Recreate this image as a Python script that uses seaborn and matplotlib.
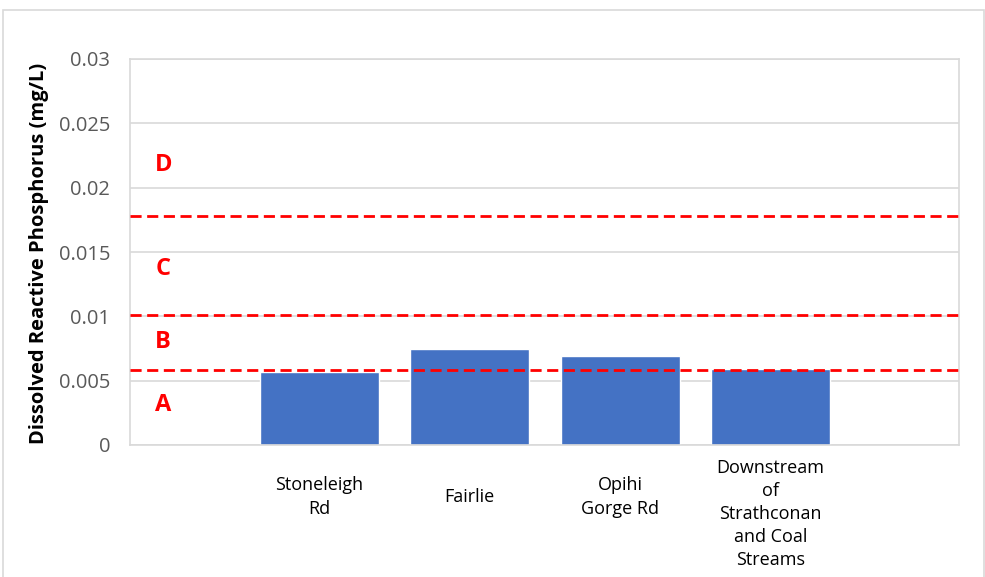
import matplotlib
matplotlib.use("Agg")
import matplotlib.pyplot as plt
from matplotlib.patches import Rectangle
import seaborn as sns
import pandas as pd

# Sites and measured dissolved reactive phosphorus (mg/L)
sites = ["Stoneleigh\nRd", "Fairlie", "Opihi\nGorge Rd",
         "Downstream\nof\nStrathconan\nand Coal\nStreams"]
drp = [0.0057, 0.0075, 0.0069, 0.0059]

# Attribute band thresholds and band labels
band_limits = [0.0058, 0.0101, 0.0178]
band_names = ["A", "B", "C", "D"]
band_label_y = [0.0031, 0.0080, 0.0137, 0.0218]

y_ticks = [0, 0.005, 0.01, 0.015, 0.02, 0.025, 0.03]
y_tick_labels = ["0", "0.005", "0.01", "0.015", "0.02", "0.025", "0.03"]

sns.set_style("white")
plt.rcParams["font.family"] = ["Open Sans", "DejaVu Sans"]

W, H = 985, 577
fig = plt.figure(figsize=(W / 100, H / 100), dpi=100)
ax = fig.add_axes([130 / W, 1 - 445 / H, (959 - 130) / W, (445 - 59) / H])

df = pd.DataFrame({"site": sites, "drp": drp})
sns.barplot(data=df, x="site", y="drp", order=sites, color="#4472C4",
            saturation=1, width=0.79, ax=ax, zorder=2)

ax.set_xlim(-1.261, 3 + 1.254)
ax.set_ylim(0, 0.03)
ax.set_yticks(y_ticks)
ax.set_yticklabels(y_tick_labels, color="#595959", fontsize=14.5)
ax.tick_params(axis="y", length=0, pad=14.4)
ax.tick_params(axis="x", length=0)
ax.set_xticks(range(len(sites)))
ax.set_xticklabels([])
ax.set_xlabel("")
ax.set_ylabel("Dissolved Reactive Phosphorus (mg/L)", fontsize=14.5,
              fontweight="bold", color="black")
ax.yaxis.set_label_coords(-0.098, 0.497)

ax.grid(axis="y", color="#d9d9d9", lw=1.2, zorder=0)
ax.set_axisbelow(True)
for sp in ax.spines.values():
    sp.set_visible(True)
    sp.set_color("#d9d9d9")
    sp.set_linewidth(1.2)

# Category labels below the axis (offsets in pixels)
label_offsets = [-52, -52, -52, -69]
for i, (name, off) in enumerate(zip(sites, label_offsets)):
    ax.annotate(name, xy=(i, 0), xycoords=("data", "axes fraction"),
                xytext=(0, off * 0.72), textcoords="offset points",
                ha="center", va="center", fontsize=13, color="black",
                linespacing=1.36, annotation_clip=False)

# Threshold lines between bands
for lim in band_limits:
    ax.axhline(lim, color="#ff0000", lw=2.0, ls=(0, (4, 2)), zorder=3)

for name, yv in zip(band_names, band_label_y):
    ax.text(-1.04, yv, name, color="#ff0000", fontsize=17,
            fontweight="bold", ha="center", va="center", zorder=4)

# Chart area frame
fig.patches.append(Rectangle((2.5 / W, -0.05), 981 / W, 1.05 - 10 / H,
                             transform=fig.transFigure, fill=False,
                             ec="#d9d9d9", lw=1.2))

fig.savefig("out.png", dpi=100)
